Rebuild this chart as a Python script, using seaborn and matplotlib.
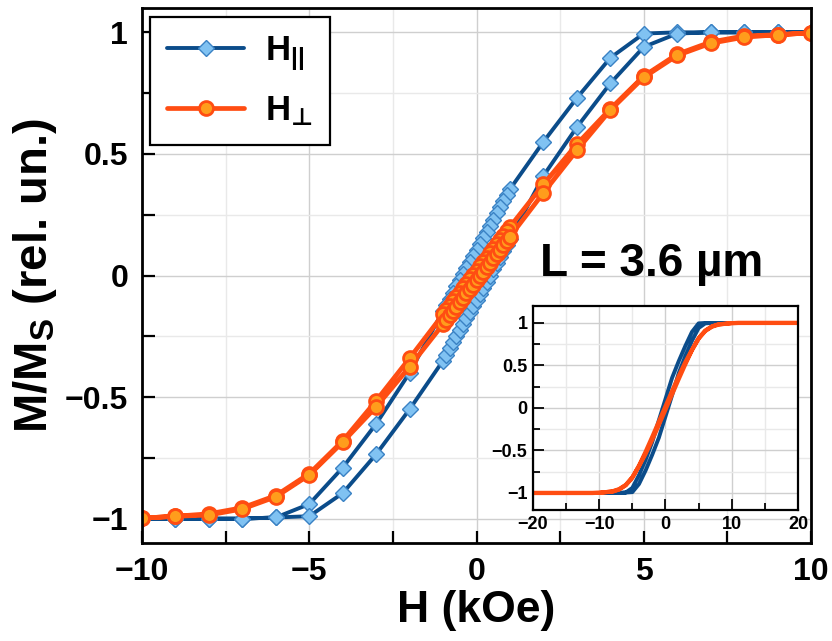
import numpy as np
import pandas as pd
import matplotlib
matplotlib.use("Agg")
import matplotlib.pyplot as plt
from matplotlib.ticker import MultipleLocator
import seaborn as sns

# ── data ────────────────────────────────────────────────────────────────────
# field sweep from +20 down to -20 kOe, dense 0.1 kOe steps around zero
H_down = [20, 19, 18, 17, 16, 15, 14, 13, 12, 11, 10, 9, 8, 7, 6, 5, 4, 3, 2,
          1.0, 0.9, 0.8, 0.7, 0.6, 0.5, 0.4, 0.3, 0.2, 0.1, 0.0,
          -0.1, -0.2, -0.3, -0.4, -0.5, -0.6, -0.7, -0.8, -0.9, -1.0,
          -2, -3, -4, -5, -6, -7, -8, -9, -10, -11, -12, -13, -14, -15,
          -16, -17, -18, -19, -20]
H_up = H_down[::-1]

# H parallel (blue diamonds)
M_par_down = [1.0, 1.0, 1.0, 1.0, 1.0, 1.0, 1.0, 1.0, 1.0, 1.0, 1.0, 1.0, 1.0,
              1.0, 1.0, 0.995, 0.895, 0.73, 0.55,
              0.355, 0.33, 0.305, 0.28, 0.255, 0.23, 0.205, 0.18, 0.155, 0.13,
              0.105, 0.08, 0.055, 0.03, 0.005, -0.02, -0.045, -0.07, -0.095,
              -0.12, -0.145,
              -0.40, -0.61, -0.79, -0.94, -0.995, -1.0, -1.0, -1.0, -1.0, -1.0,
              -1.0, -1.0, -1.0, -1.0, -1.0, -1.0, -1.0, -1.0, -1.0]
M_par_up = [-1.0, -1.0, -1.0, -1.0, -1.0, -1.0, -1.0, -1.0, -1.0, -1.0, -1.0,
            -1.0, -1.0, -1.0, -0.995, -0.99, -0.895, -0.735, -0.55,
            -0.35, -0.325, -0.30, -0.275, -0.25, -0.225, -0.20, -0.175, -0.15,
            -0.125, -0.10, -0.075, -0.05, -0.025, 0.0, 0.025, 0.05, 0.075,
            0.10, 0.125, 0.15,
            0.41, 0.61, 0.79, 0.94, 0.995, 1.0, 1.0, 1.0, 1.0, 1.0, 1.0, 1.0,
            1.0, 1.0, 1.0, 1.0, 1.0, 1.0, 1.0]

# H perpendicular (orange circles)
M_perp_down = [1.0, 1.0, 1.0, 1.0, 1.0, 1.0, 1.0, 1.0, 1.0, 1.0, 0.998, 0.99,
               0.985, 0.96, 0.91, 0.82, 0.685, 0.54, 0.375,
               0.20, 0.182, 0.164, 0.146, 0.128, 0.11, 0.092, 0.074, 0.056,
               0.038, 0.02, 0.002, -0.016, -0.034, -0.052, -0.07, -0.088,
               -0.106, -0.124, -0.142, -0.16,
               -0.34, -0.515, -0.68, -0.815, -0.905, -0.955, -0.98, -0.99,
               -0.998, -1.0, -1.0, -1.0, -1.0, -1.0, -1.0, -1.0, -1.0, -1.0,
               -1.0]
M_perp_up = [-1.0, -1.0, -1.0, -1.0, -1.0, -1.0, -1.0, -1.0, -1.0, -1.0,
             -0.998, -0.99, -0.985, -0.96, -0.91, -0.82, -0.685, -0.54, -0.375,
             -0.20, -0.182, -0.164, -0.146, -0.128, -0.11, -0.092, -0.074,
             -0.056, -0.038, -0.02, -0.002, 0.016, 0.034, 0.052, 0.07, 0.088,
             0.106, 0.124, 0.142, 0.16,
             0.34, 0.515, 0.68, 0.815, 0.905, 0.955, 0.98, 0.99, 0.998, 1.0,
             1.0, 1.0, 1.0, 1.0, 1.0, 1.0, 1.0, 1.0, 1.0]

df_par = pd.DataFrame({"H": H_down + H_up, "M": M_par_down + M_par_up})
df_perp = pd.DataFrame({"H": H_down + H_up, "M": M_perp_down + M_perp_up})

BLUE = "#0B4C8A"
BLUE_FACE = "#80C2F2"
BLUE_EDGE = "#3A82C4"
ORANGE = "#FF4D12"
ORANGE_FACE = "#FF9D1C"

# ── style ───────────────────────────────────────────────────────────────────
sns.set_style("white")
plt.rcParams["font.family"] = ["Liberation Sans", "DejaVu Sans"]
plt.rcParams["font.weight"] = "bold"
plt.rcParams["axes.labelweight"] = "bold"
for key in ["text.color", "axes.labelcolor", "xtick.color", "ytick.color"]:
    plt.rcParams[key] = "black"
plt.rcParams["mathtext.fontset"] = "custom"
plt.rcParams["mathtext.rm"] = "Liberation Sans:bold"
plt.rcParams["mathtext.bf"] = "Liberation Sans:bold"
plt.rcParams["mathtext.it"] = "Liberation Sans:bold"
plt.rcParams["mathtext.sf"] = "DejaVu Sans:bold"
plt.rcParams["mathtext.default"] = "bf"
plt.rcParams["mathtext.fallback"] = "stixsans"


def style_axes(a, spine_lw, major_len, minor_len, labelsize, pad):
    for s in a.spines.values():
        s.set_color("black")
        s.set_linewidth(spine_lw)
    a.grid(True, which="major", color="#cfcfcf", lw=1.0)
    a.grid(True, which="minor", color="#e9e9e9", lw=1.0)
    a.set_axisbelow(True)
    a.tick_params(which="major", direction="in", length=major_len,
                  width=spine_lw * 0.8, labelsize=labelsize, pad=pad,
                  colors="black", left=True, bottom=True)
    a.tick_params(which="minor", direction="in", length=minor_len,
                  width=spine_lw * 0.8, left=True, bottom=True)
    for lab in a.get_xticklabels() + a.get_yticklabels():
        lab.set_fontweight("bold")


fig = plt.figure(figsize=(8.32, 6.41), dpi=100)
ax = fig.add_axes([0.1707, 0.1529, 0.8041, 0.8346])

# ── main panel ──────────────────────────────────────────────────────────────
sns.lineplot(data=df_par, x="H", y="M", sort=False, estimator=None, ax=ax,
             color=BLUE, lw=2.8, marker="D", markersize=8.5,
             markerfacecolor=BLUE_FACE, markeredgecolor=BLUE_EDGE,
             markeredgewidth=1.0, label=r"H$_{||}$")
sns.lineplot(data=df_perp, x="H", y="M", sort=False, estimator=None, ax=ax,
             color=ORANGE, lw=3.4, marker="o", markersize=10,
             markerfacecolor=ORANGE_FACE, markeredgecolor=ORANGE,
             markeredgewidth=2.0, label="H$_{\\mathsf{\u22a5}}$")

ax.set_xlim(-10, 10)
ax.set_ylim(-1.1, 1.1)
ax.xaxis.set_major_locator(MultipleLocator(5))
ax.xaxis.set_minor_locator(MultipleLocator(2.5))
ax.yaxis.set_minor_locator(MultipleLocator(0.25))
ax.set_yticks([-1, -0.5, 0, 0.5, 1])
ax.set_yticklabels(["\u22121", "\u22120.5", "0", "0.5", "1"])
style_axes(ax, 2.0, 9, 9, 23, 10)

ax.set_xlabel("H (kOe)", fontsize=32, fontweight="bold", labelpad=2)
ax.set_ylabel(r"M/M$_S$ (rel. un.)", fontsize=34, fontweight="bold",
              labelpad=4)

ax.text(1.9, 0.0, "L = 3.6 \u00b5m", fontsize=33, fontweight="bold",
        ha="left", va="baseline", color="black")

leg = ax.legend(loc="upper left", bbox_to_anchor=(0.012, 0.983),
                borderaxespad=0, fontsize=25, handlelength=2.2,
                handletextpad=0.6, labelspacing=0.6, borderpad=0.5,
                fancybox=False, framealpha=1)
leg.get_frame().set_edgecolor("black")
leg.get_frame().set_linewidth(1.6)

# ── inset: full field range ─────────────────────────────────────────────────
axin = fig.add_axes([0.6406, 0.2044, 0.3185, 0.3183])
axin.set_facecolor("white")
sns.lineplot(data=df_par, x="H", y="M", sort=False, estimator=None,
             ax=axin, color=BLUE, lw=2.8)
sns.lineplot(data=df_perp, x="H", y="M", sort=False, estimator=None,
             ax=axin, color=ORANGE, lw=3.0)
axin.set_xlim(-20, 20)
axin.set_ylim(-1.2, 1.2)
axin.xaxis.set_major_locator(MultipleLocator(10))
axin.xaxis.set_minor_locator(MultipleLocator(5))
axin.set_yticks([-1, -0.5, 0, 0.5, 1])
axin.set_yticklabels(["\u22121", "\u22120.5", "0", "0.5", "1"])
axin.yaxis.set_minor_locator(MultipleLocator(0.25))
axin.set_xlabel("")
axin.set_ylabel("")
style_axes(axin, 1.6, 8, 5, 13, 4)

fig.savefig("out.png", dpi=100)
plt.close()
